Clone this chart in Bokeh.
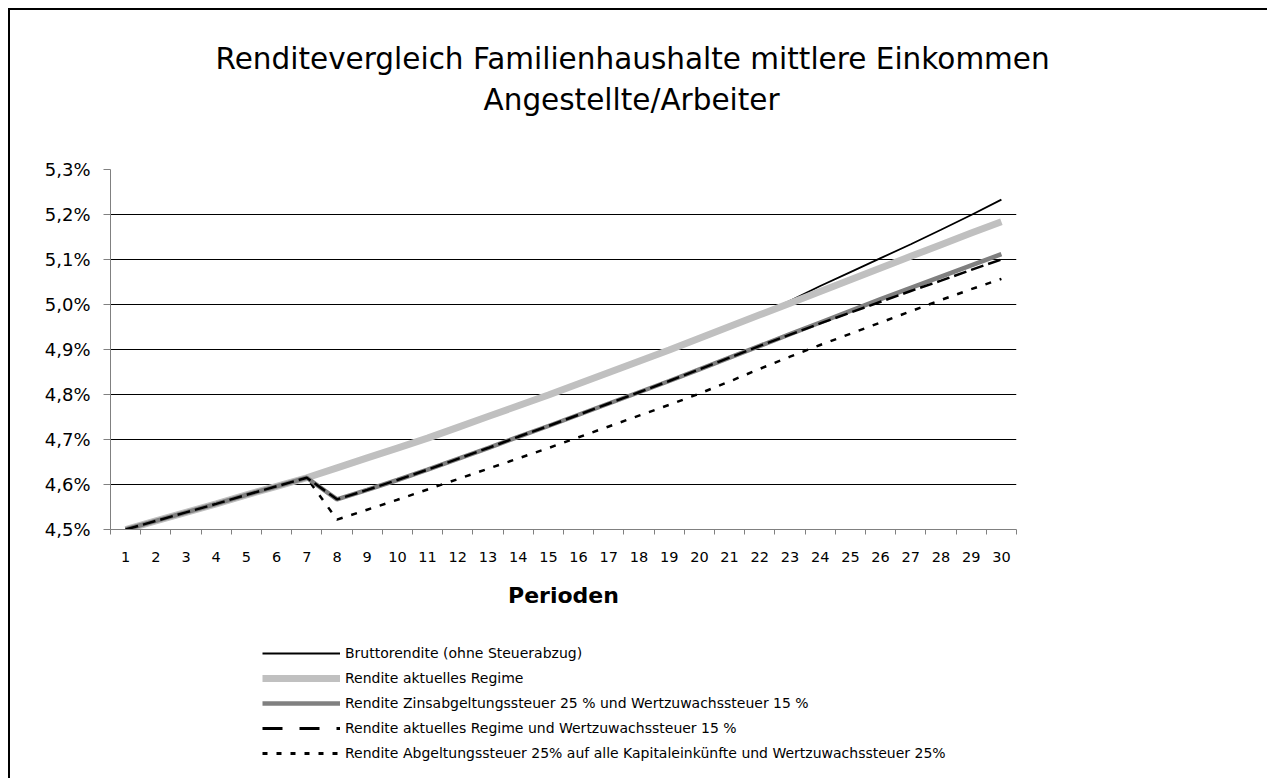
from bokeh.plotting import figure
from bokeh.models import FixedTicker, Legend, LegendItem, Title, Range1d
from bokeh.layouts import column
from bokeh.embed import file_html
from bokeh.resources import INLINE

# ---------------- data ----------------
periods = list(range(1, 31))

brutto = [4.500, 4.519, 4.538, 4.557, 4.577, 4.596, 4.615, 4.637, 4.659, 4.681,
          4.703, 4.727, 4.751, 4.775, 4.799, 4.824, 4.849, 4.874, 4.899, 4.925,
          4.951, 4.978, 5.008, 5.041, 5.072, 5.103, 5.134, 5.166, 5.199, 5.233]

aktuell = [4.500, 4.519, 4.538, 4.557, 4.577, 4.596, 4.615, 4.637, 4.659, 4.681,
           4.703, 4.727, 4.751, 4.775, 4.799, 4.824, 4.849, 4.874, 4.899, 4.925,
           4.951, 4.977, 5.003, 5.029, 5.055, 5.081, 5.107, 5.133, 5.159, 5.184]

zins25_wz15 = [4.500, 4.519, 4.538, 4.557, 4.577, 4.596, 4.615, 4.567, 4.588, 4.610,
               4.633, 4.657, 4.681, 4.706, 4.730, 4.755, 4.780, 4.805, 4.830, 4.856,
               4.882, 4.908, 4.934, 4.960, 4.986, 5.012, 5.037, 5.062, 5.087, 5.112]

aktuell_wz15 = [4.500, 4.519, 4.538, 4.557, 4.577, 4.596, 4.615, 4.567, 4.588, 4.610,
                4.633, 4.657, 4.681, 4.706, 4.730, 4.755, 4.780, 4.805, 4.830, 4.856,
                4.882, 4.908, 4.933, 4.958, 4.982, 5.006, 5.030, 5.053, 5.077, 5.100]

abgelt25_wz25 = [4.500, 4.519, 4.538, 4.557, 4.577, 4.596, 4.615, 4.522, 4.544, 4.566,
                 4.589, 4.612, 4.635, 4.658, 4.681, 4.705, 4.729, 4.753, 4.777, 4.802,
                 4.829, 4.857, 4.884, 4.910, 4.935, 4.960, 4.985, 5.010, 5.034, 5.057]

series_labels = [
    "Bruttorendite (ohne Steuerabzug)",
    "Rendite aktuelles Regime",
    "Rendite Zinsabgeltungssteuer 25 % und Wertzuwachssteuer 15 %",
    "Rendite aktuelles Regime und Wertzuwachssteuer 15 %",
    "Rendite Abgeltungssteuer 25% auf alle Kapitaleinkünfte und Wertzuwachssteuer 25%",
]

y_ticks = [4.5, 4.6, 4.7, 4.8, 4.9, 5.0, 5.1, 5.2, 5.3]
y_tick_labels = ["4,5%", "4,6%", "4,7%", "4,8%", "4,9%", "5,0%", "5,1%", "5,2%", "5,3%"]

title_line1 = "Renditevergleich Familienhaushalte mittlere Einkommen"
title_line2 = "Angestellte/Arbeiter"
x_title = "Perioden"

FONT = "DejaVu Sans"
NAN = float("nan")
W = 1267

# ---------------- main chart ----------------
p = figure(width=W, height=640, output_backend="svg", toolbar_location=None,
           title_location=None,
           x_range=Range1d(periods[0] - 0.5, periods[-1] + 0.5),
           y_range=Range1d(y_ticks[0], y_ticks[-1]),
           min_border_left=110, min_border_right=W - 1016,
           min_border_top=169, min_border_bottom=111)
p.background_fill_alpha = 0
p.border_fill_alpha = 0
p.outline_line_color = None

# grid
p.xgrid.grid_line_color = None
p.ygrid.grid_line_color = "black"
p.ygrid.grid_line_width = 1

# x axis
boundaries = [v - 0.5 for v in periods] + [periods[-1] + 0.5]
p.xaxis.ticker = FixedTicker(ticks=periods, minor_ticks=boundaries)
p.xaxis.major_tick_out = 0
p.xaxis.major_tick_in = 0
p.xaxis.minor_tick_out = 5
p.xaxis.minor_tick_in = 0
p.xaxis.minor_tick_line_color = "#808080"
p.xaxis.axis_line_color = "#808080"
p.xaxis.major_label_text_font = FONT
p.xaxis.major_label_text_font_size = "14.5px"
p.xaxis.major_label_text_color = "black"
p.xaxis.major_label_standoff = 17
p.xaxis.axis_label = x_title
p.xaxis.axis_label_text_font = FONT
p.xaxis.axis_label_text_font_style = "bold"
p.xaxis.axis_label_text_font_size = "22px"
p.xaxis.axis_label_text_color = "black"
p.xaxis.axis_label_standoff = 18

# y axis
p.yaxis.ticker = FixedTicker(ticks=y_ticks)
p.yaxis.major_label_overrides = dict(zip(y_ticks, y_tick_labels))
p.yaxis.major_tick_out = 7
p.yaxis.major_tick_in = 0
p.yaxis.minor_tick_line_color = None
p.yaxis.major_tick_line_color = "#808080"
p.yaxis.axis_line_color = "#808080"
p.yaxis.major_label_text_font = FONT
p.yaxis.major_label_text_font_size = "18px"
p.yaxis.major_label_text_color = "black"
p.yaxis.major_label_standoff = 13

# series
p.line(periods, abgelt25_wz25, line_color="black", line_width=2.5, line_dash="6 9")
p.line(periods, brutto, line_color="black", line_width=1.8)
p.line(periods, aktuell, line_color="#c0c0c0", line_width=7)
p.line(periods, zins25_wz15, line_color="#808080", line_width=4.5)
p.line(periods, aktuell_wz15, line_color="black", line_width=2.5, line_dash="13 5")

# title (two lines + spacer)
title_style = dict(text_font=FONT, text_font_size="29.5px", text_font_style="normal",
                   text_color="black", align="left")
p.add_layout(Title(text=" ", text_font_size="1px", standoff=49), "above")
p.add_layout(Title(text=title_line2, offset=373, standoff=2, **title_style), "above")
p.add_layout(Title(text=title_line1, offset=105, standoff=7, **title_style), "above")

# ---------------- legend strip ----------------
q = figure(width=W, height=138, output_backend="svg", toolbar_location=None,
           title_location=None, x_axis_type=None, y_axis_type=None,
           x_range=Range1d(0, 1), y_range=Range1d(0, 1), min_border=0)
q.background_fill_alpha = 0
q.border_fill_alpha = 0
q.outline_line_color = None
q.grid.grid_line_color = None

lg = [
    q.line([NAN], [NAN], line_color="black", line_width=2),
    q.line([NAN], [NAN], line_color="#c0c0c0", line_width=7),
    q.line([NAN], [NAN], line_color="#808080", line_width=4.5),
    q.line([NAN], [NAN], line_color="black", line_width=3, line_dash="20 17"),
    q.line([NAN], [NAN], line_color="black", line_width=3, line_dash="5 9"),
]
legend = Legend(items=[LegendItem(label=t, renderers=[r]) for t, r in zip(series_labels, lg)],
                location=(152, 15), orientation="vertical",
                glyph_width=78, glyph_height=20, label_height=20,
                spacing=5, padding=0, margin=0, label_standoff=5,
                label_text_font=FONT, label_text_font_size="14px", label_text_color="black",
                border_line_color=None, background_fill_alpha=0)
q.add_layout(legend)

layout = column(p, q, spacing=0)
layout.styles = {"box-shadow": "inset 8px 8px 0 0 #ffffff, inset 10px 10px 0 0 #000000",
                 "background-color": "white"}

open("out.html", "w").write(file_html(layout, INLINE))
